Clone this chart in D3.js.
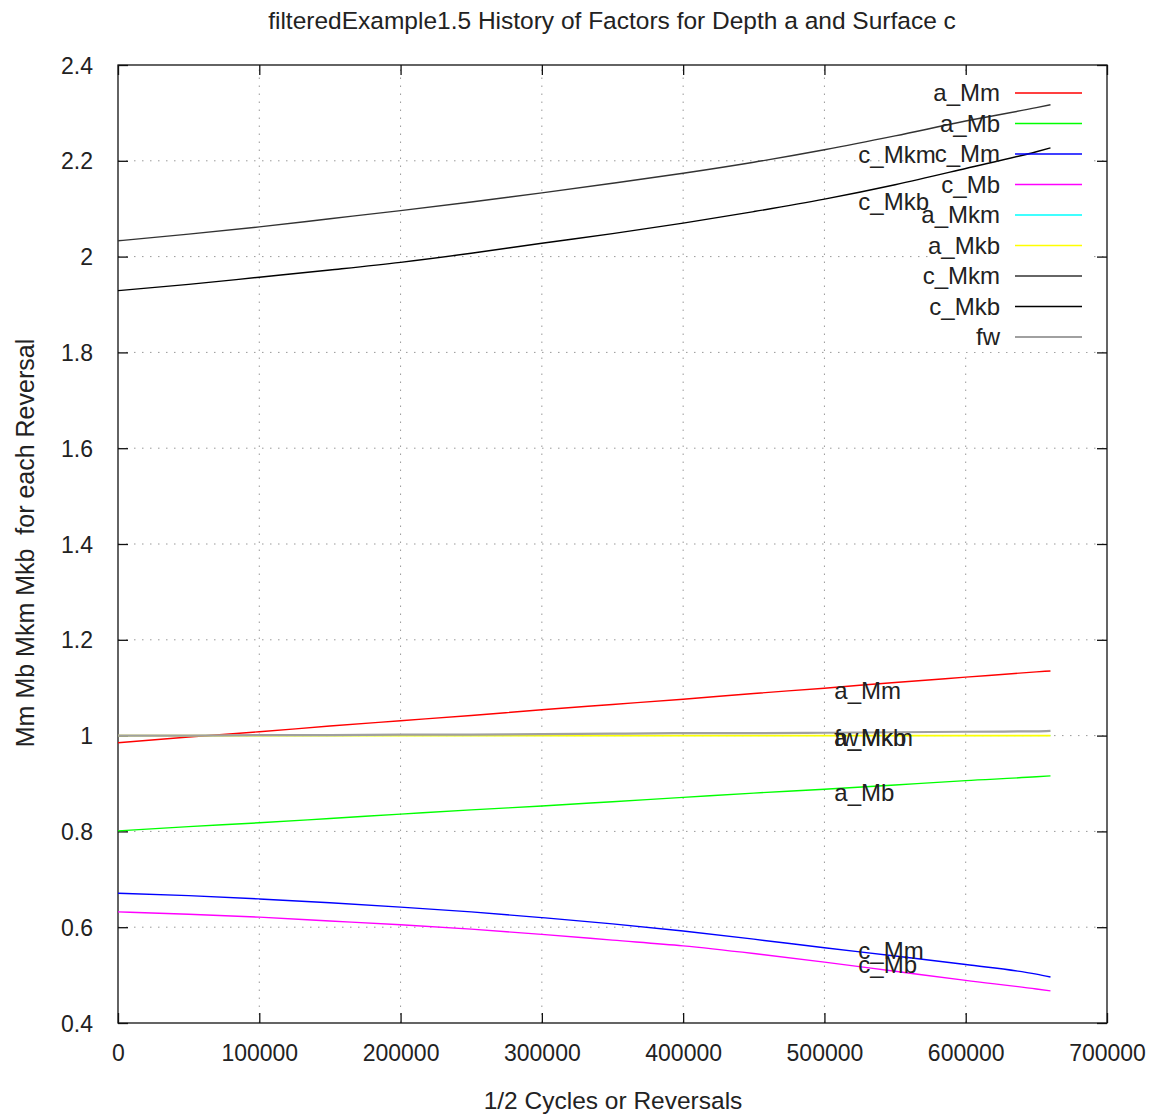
<!DOCTYPE html>
<html>
<head>
<meta charset="utf-8">
<script src="https://cdn.jsdelivr.net/npm/d3@7/dist/d3.min.js"></script>
<style>
  body { margin: 0; background: #fff; }
  svg text { font-family: "Liberation Sans", Arial, sans-serif; fill: #222; white-space: pre; }
</style>
</head>
<body>
<svg id="chart" width="1157" height="1118"></svg>
<script>
// ---- data ----
const xValues = [0, 50000, 100000, 150000, 200000, 250000, 300000, 350000, 400000, 450000, 500000, 550000, 600000, 650000, 660000];
const a_Mm  = [0.985, 0.997, 1.008, 1.020, 1.031, 1.042, 1.054, 1.065, 1.076, 1.088, 1.099, 1.111, 1.122, 1.133, 1.135];
const a_Mb  = [0.801, 0.810, 0.818, 0.827, 0.836, 0.845, 0.853, 0.862, 0.871, 0.880, 0.888, 0.897, 0.906, 0.914, 0.916];
const c_Mm  = [0.671, 0.666, 0.659, 0.651, 0.642, 0.632, 0.620, 0.607, 0.592, 0.575, 0.557, 0.540, 0.522, 0.502, 0.496];
const c_Mb  = [0.632, 0.627, 0.621, 0.613, 0.605, 0.596, 0.585, 0.573, 0.561, 0.545, 0.527, 0.508, 0.489, 0.471, 0.467];
const a_Mkm = [1.000, 1.000, 1.000, 1.000, 1.000, 1.000, 1.000, 1.000, 1.000, 1.000, 1.000, 1.000, 1.000, 1.000, 1.000];
const a_Mkb = [1.000, 1.000, 1.000, 1.000, 1.000, 1.000, 1.000, 1.000, 1.000, 1.000, 1.000, 1.000, 1.000, 1.000, 1.000];
const c_Mkm = [2.033, 2.047, 2.062, 2.079, 2.096, 2.114, 2.133, 2.153, 2.174, 2.197, 2.223, 2.252, 2.283, 2.311, 2.317];
const c_Mkb = [1.929, 1.942, 1.957, 1.972, 1.988, 2.007, 2.028, 2.048, 2.070, 2.094, 2.120, 2.150, 2.184, 2.219, 2.227];
const fw    = [1.000, 1.000, 1.001, 1.001, 1.002, 1.002, 1.003, 1.004, 1.005, 1.005, 1.006, 1.007, 1.008, 1.009, 1.010];

const seriesNames  = ["a_Mm", "a_Mb", "c_Mm", "c_Mb", "a_Mkm", "a_Mkb", "c_Mkm", "c_Mkb", "fw"];
const seriesValues = [a_Mm, a_Mb, c_Mm, c_Mb, a_Mkm, a_Mkb, c_Mkm, c_Mkb, fw];
const seriesColors = ["#ff0000", "#00ff00", "#0000ff", "#ff00ff", "#00ffff", "#ffff00", "#333333", "#000000", "#a0a0a0"];

// in-plot labels (data coordinates)
const labelNames = ["a_Mm", "a_Mb", "a_Mkm", "a_Mkb", "fw", "c_Mm", "c_Mb", "c_Mkm", "c_Mkb"];
const labelX     = [507000, 507000, 507000, 507000, 507000, 524000, 524000, 524000, 524000];
const labelY     = [1.093, 0.880, 0.995, 0.995, 0.995, 0.552, 0.521, 2.212, 2.114];

const xTicks = [0, 100000, 200000, 300000, 400000, 500000, 600000, 700000];
const yTicks = [0.4, 0.6, 0.8, 1.0, 1.2, 1.4, 1.6, 1.8, 2.0, 2.2, 2.4];

const titleText = "filteredExample1.5 History of Factors for Depth a and Surface c";
const xLabelText = "1/2 Cycles or Reversals";
const yLabelText = "Mm Mb Mkm Mkb  for each Reversal";

// ---- layout ----
const svg = d3.select("#chart");
const L = 118, R = 1107, T = 65, B = 1023;
const x = d3.scaleLinear().domain([0, 700000]).range([L, R]);
const y = d3.scaleLinear().domain([0.4, 2.4]).range([B, T]);
const fsTick = 23;
const fs = 24;

// grid (dotted)
const grid = svg.append("g");
xTicks.filter(v => v > 0 && v < 700000).forEach(v => {
  grid.append("line").attr("x1", x(v)).attr("x2", x(v)).attr("y1", B).attr("y2", T)
    .attr("stroke", "#999").attr("stroke-width", 1).attr("stroke-dasharray", "1.5,6.5");
});
yTicks.filter(v => v > 0.41 && v < 2.39).forEach(v => {
  grid.append("line").attr("x1", L).attr("x2", R).attr("y1", y(v)).attr("y2", y(v))
    .attr("stroke", "#999").attr("stroke-width", 1).attr("stroke-dasharray", "1.5,6.5");
});

// opaque legend box
svg.append("rect").attr("x", 930).attr("y", 76).attr("width", 163).attr("height", 276).attr("fill", "#fff");

// axes via d3 axis generators (ticks inside, mirrored)
const tickLen = 10;
const axL = svg.append("g").attr("transform", `translate(${L},0)`)
  .call(d3.axisLeft(y).tickValues(yTicks).tickSize(-tickLen).tickPadding(tickLen + 15).tickFormat(d => d3.format("")(+d.toFixed(1))));
const axR = svg.append("g").attr("transform", `translate(${R},0)`)
  .call(d3.axisRight(y).tickValues(yTicks).tickSize(-tickLen).tickFormat(""));
const axB = svg.append("g").attr("transform", `translate(0,${B})`)
  .call(d3.axisBottom(x).tickValues(xTicks).tickSize(-tickLen).tickPadding(tickLen + 12).tickFormat(d3.format("d")));
const axT = svg.append("g").attr("transform", `translate(0,${T})`)
  .call(d3.axisTop(x).tickValues(xTicks).tickSize(-tickLen).tickFormat(""));
[axL, axR, axB, axT].forEach(a => {
  a.select(".domain").remove();
  a.selectAll(".tick line").attr("stroke", "#111").attr("stroke-width", 1.3);
  a.selectAll("text").attr("font-size", fsTick).attr("fill", "#222")
    .attr("font-family", "'Liberation Sans', Arial, sans-serif");
});
axL.selectAll("text").attr("dy", "0.35em");

// frame
svg.append("rect").attr("x", L).attr("y", T).attr("width", R - L).attr("height", B - T)
  .attr("fill", "none").attr("stroke", "#111").attr("stroke-width", 1.3);

// series lines
const widths = {"fw": 2.2, "a_Mkm": 1.0, "a_Mkb": 1.6};
const line = d3.line().x((d, i) => x(xValues[i])).y(d => y(d)).curve(d3.curveMonotoneX);
seriesValues.forEach((vals, k) => {
  svg.append("path").datum(vals).attr("d", line)
    .attr("fill", "none").attr("stroke", seriesColors[k])
    .attr("stroke-width", widths[seriesNames[k]] || 1.4);
});

// in-plot labels
labelNames.forEach((n, i) => {
  svg.append("text").attr("x", x(labelX[i])).attr("y", y(labelY[i])).attr("dy", "0.35em")
    .attr("font-size", fs).text(n);
});

// legend
const legY0 = 93, legDy = 30.5;
seriesNames.forEach((n, i) => {
  const yy = legY0 + i * legDy;
  svg.append("text").attr("x", 1000).attr("y", yy).attr("dy", "0.35em")
    .attr("text-anchor", "end").attr("font-size", fs).text(n);
  svg.append("line").attr("x1", 1015).attr("x2", 1082).attr("y1", yy).attr("y2", yy)
    .attr("stroke", seriesColors[i]).attr("stroke-width", n === "fw" ? 2.2 : 1.4);
});

// title & axis labels
svg.append("text").attr("x", 612).attr("y", 20).attr("dy", "0.35em").attr("text-anchor", "middle")
  .attr("font-size", 24.5).text(titleText);
svg.append("text").attr("x", 613).attr("y", 1100).attr("dy", "0.35em").attr("text-anchor", "middle")
  .attr("font-size", 24.5).text(xLabelText);
svg.append("text").attr("transform", "translate(25,543) rotate(-90)").attr("dy", "0.35em")
  .attr("text-anchor", "middle").attr("font-size", 25).text(yLabelText);
</script>
</body>
</html>
